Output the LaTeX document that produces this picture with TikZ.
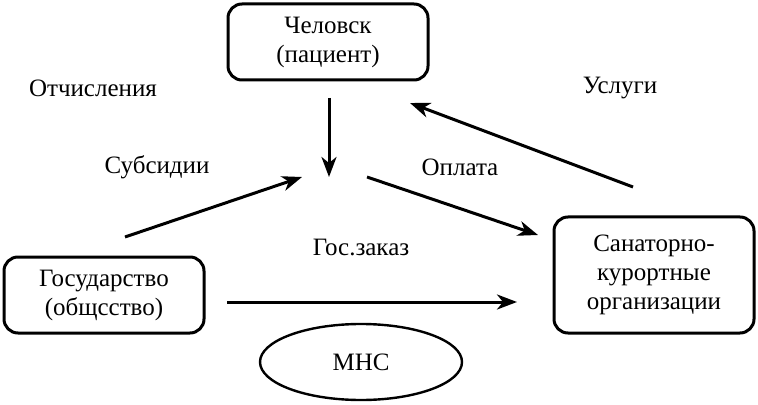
\documentclass[tikz,border=0pt]{standalone}
\usepackage{fontspec}
\setmainfont{Liberation Serif}
\usetikzlibrary{arrows.meta,shapes.geometric}

\begin{document}
\begin{tikzpicture}[x=0.5pt,y=-0.5pt,font=\fontsize{12.5}{14.5}\selectfont,
  box/.style={rectangle, draw, line width=1.5pt, rounded corners=7pt, align=center, minimum width=100pt, minimum height=38pt},
  flow/.style={-{Stealth[length=10pt,width=7.5pt,inset=3pt]}, line width=1.5pt}]
\useasboundingbox (0,0) rectangle (758,405);
\node (man) [box] at (328,42) {Человск\\(пациент)};
\node (state) [box] at (104,295) {Государство\\(общсство)};
\node (san) [box, minimum height=58pt] at (654,275) {Санаторно-\\курортные\\организации};
\node (mns) [ellipse, draw, line width=1.2pt, minimum width=101pt, minimum height=38pt] at (361,362) {МНС};
\node (otch) at (93,88) {Отчисления};
\node (usl) at (620,88) {Услуги};
\node (subs) at (157,167) {Субсидии};
\node (opl) at (460,167) {Оплата};
\node (zak) at (361,247) {Гос.заказ};
\coordinate (down) at (329,98);
\coordinate (hub) at (329,177);
\coordinate (subsa) at (125,237);
\coordinate (subsb) at (302,177);
\coordinate (opla) at (367,177);
\coordinate (oplb) at (538,235);
\coordinate (usla) at (633,187);
\coordinate (uslb) at (410,103);
\coordinate (zaka) at (227,302);
\coordinate (zakb) at (517,302);
\draw [flow] (down) -- (hub);
\draw [flow] (subsa) -- (subsb);
\draw [flow] (opla) -- (oplb);
\draw [flow] (usla) -- (uslb);
\draw [flow] (zaka) -- (zakb);
\end{tikzpicture}
\end{document}
